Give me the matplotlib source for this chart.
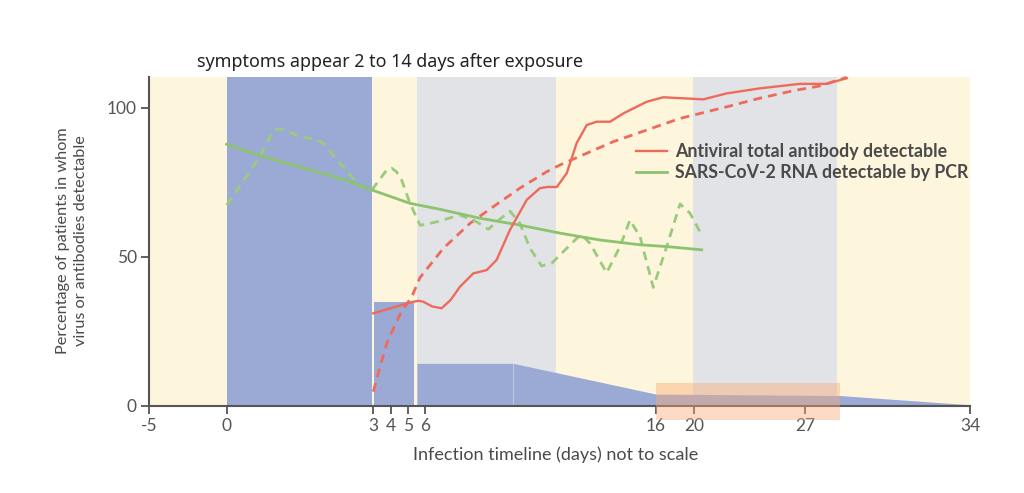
import numpy as np
import matplotlib
matplotlib.use("Agg")
import matplotlib.pyplot as plt
from matplotlib.patches import Rectangle

# ---------------- data ----------------
tick_days = [-5, 0, 3, 4, 5, 6, 16, 20, 27, 34]
y_ticks = [0, 50, 100]

# antibody (red, solid)
ab_day = [3.0, 5.29, 5.6, 5.88, 6.3, 6.71, 7.1, 7.5, 8.08, 8.66, 9.09, 9.67, 10.4, 10.97, 11.3, 11.7,
          12.13, 12.56, 13.0, 13.43, 14.01, 14.59, 15.6, 16.77, 18.53, 20.59, 22.06, 24.15,
          26.67, 27.91, 28.76]
ab_val = [31.0, 34.9, 35.2, 34.9, 33.3, 32.7, 35.5, 39.9, 44.4, 45.5, 48.9, 59.0, 69.1, 73.0, 73.4, 73.4,
          78.0, 88.1, 94.2, 95.3, 95.3, 98.1, 102.0, 103.5, 103.2, 102.8, 104.8, 106.5,
          108.0, 108.0, 109.9]

# antibody trend (red, dashed)
abfit_day = [3.0, 3.38, 3.76, 4.13, 4.6, 5.2, 5.69, 6.78, 7.94, 8.95, 10.1, 11.26, 11.84,
             14.15, 18.53, 22.06, 24.15, 26.25, 27.62, 28.76]
abfit_val = [4.7, 13.1, 20.9, 25.8, 31.5, 36.5, 43.0, 52.8, 61.2, 66.8, 73.0, 78.5, 80.8,
             88.6, 96.4, 100.3, 103.2, 105.7, 107.3, 110.2]

# RNA by PCR (green, dashed)
rna_day = [0.0, 0.68, 0.95, 1.09, 1.26, 1.5, 1.84, 1.97, 2.38, 2.73, 2.97, 3.76, 4.04, 4.32,
           4.61, 5.1, 5.69, 6.0, 6.49, 7.5, 8.23, 8.73, 9.09, 9.67, 10.1, 10.54, 11.04, 11.48,
           11.84, 12.57, 12.78, 13.14, 13.86, 14.44, 14.87, 15.31, 15.88, 17.13, 18.53,
           19.58, 20.48]
rna_val = [67.3, 83.6, 92.3, 92.9, 91.9, 90.3, 89.2, 88.2, 80.2, 73.5, 72.4, 79.1, 79.7, 78.5,
           75.8, 67.9, 60.6, 60.8, 61.7, 64.0, 61.7, 59.2, 61.7, 65.3, 61.2, 52.8, 46.9, 47.8,
           50.6, 56.2, 57.3, 54.5, 44.6, 53.4, 62.3, 56.7, 39.7, 53.4, 67.7,
           64.6, 57.3]

# RNA trend (green, solid)
rnafit_day = [0.0, 0.68, 1.5, 2.38, 2.97, 5.1, 6.64, 8.37, 10.1, 11.84, 13.57, 15.31, 17.13, 20.48]
rnafit_val = [87.7, 83.9, 80.1, 76.0, 72.4, 67.9, 65.9, 62.9, 60.6, 57.9, 55.6, 54.0, 53.4, 52.3]

# blue areas
rect_day = [3.02, 5.35]
rect_val = 34.9
area_day = [5.51, 9.82, 16.0, 28.5, 34.0]
area_val = [14.2, 14.2, 3.9, 3.4, 0.3]

# background bands
gray_bands = [(5.51, 11.67), (19.85, 28.33)]
blue_band = (0.0, 2.98)
orange_box = (16.05, 28.47, -4.8, 7.6)

legend_labels = ["Antiviral total antibody detectable", "SARS-CoV-2 RNA detectable by PCR"]
title_text = "symptoms appear 2 to 14 days after exposure"
xlabel_text = "Infection timeline (days) not to scale"
ylabel_text = "Percentage of patients in whom\nvirus or antibodies detectable"

# --------------- non-linear (not to scale) axis ---------------
tick_pos = np.array([149.3, 226.7, 373.3, 391, 408.3, 425.3, 656, 694, 805.3, 970])
kd = np.array(tick_days, float)


def fwd(x):
    x = np.asarray(x, float)
    y = np.interp(x, kd, tick_pos)
    s0 = (tick_pos[1] - tick_pos[0]) / (kd[1] - kd[0])
    s1 = (tick_pos[-1] - tick_pos[-2]) / (kd[-1] - kd[-2])
    y = np.where(x < kd[0], tick_pos[0] + (x - kd[0]) * s0, y)
    y = np.where(x > kd[-1], tick_pos[-1] + (x - kd[-1]) * s1, y)
    return y


def inv(p):
    p = np.asarray(p, float)
    x = np.interp(p, tick_pos, kd)
    s0 = (kd[1] - kd[0]) / (tick_pos[1] - tick_pos[0])
    s1 = (kd[-1] - kd[-2]) / (tick_pos[-1] - tick_pos[-2])
    x = np.where(p < tick_pos[0], kd[0] + (p - tick_pos[0]) * s0, x)
    x = np.where(p > tick_pos[-1], kd[-1] + (p - tick_pos[-1]) * s1, x)
    return x


# --------------- figure ---------------
W, H = 1024, 493
fig = plt.figure(figsize=(W / 100, H / 100), dpi=100)
ax = fig.add_axes([149.3 / W, 1 - 405.7 / H, (970 - 149.3) / W, (405.7 - 77) / H])
ax.set_xscale("function", functions=(fwd, inv))
ax.set_xlim(-5, 34)
ax.set_ylim(0, 110.3)

cream = "#FDF5DC"
gray = "#E2E3E6"
blue = "#9BAAD4"
red = "#EE6B5C"
green = "#8CC36E"
green_d = "#9ACB7C"
txt = "#4A4A4A"
narrow = ["Lato", "DejaVu Sans"]

ax.set_facecolor(cream)
for a, b in gray_bands:
    ax.axvspan(a, b, color=gray, lw=0, zorder=0.5)
ax.axvspan(blue_band[0], blue_band[1], color=blue, lw=0, zorder=0.6)
ax.fill_between(rect_day, [rect_val, rect_val], 0, color=blue, lw=0, zorder=0.7)
ax.fill_between(area_day, area_val, 0, color=blue, lw=0, zorder=0.7)
ax.plot([area_day[1], area_day[1]], [0, area_val[1]], color="white", lw=0.8, alpha=0.35, zorder=0.8)

ob = orange_box
ax.add_patch(Rectangle((ob[0], ob[2]), ob[1] - ob[0], ob[3] - ob[2], facecolor="#F9A875",
                       alpha=0.42, lw=0, zorder=5, clip_on=False))

ax.plot(abfit_day, abfit_val, color=red, lw=2.0, ls=(0, (3.2, 2.2)), zorder=3, clip_on=False)
ax.plot(rna_day, rna_val, color=green_d, lw=2.0, ls=(0, (3.2, 2.2)), zorder=3)
ax.plot(rnafit_day, rnafit_val, color=green, lw=2.0, zorder=3.1, label=legend_labels[1])
ax.plot(ab_day, ab_val, color=red, lw=1.7, zorder=3.2, label=legend_labels[0], clip_on=False)

# axes styling
for s in ["top", "right"]:
    ax.spines[s].set_visible(False)
for s in ["left", "bottom"]:
    ax.spines[s].set_color("#555555")
    ax.spines[s].set_linewidth(1.5)
ax.set_xticks(tick_days)
ax.set_xticklabels([str(d) for d in tick_days])
ax.set_yticks(y_ticks)
ax.xaxis.set_minor_locator(matplotlib.ticker.NullLocator())
ax.tick_params(axis="both", direction="out", length=6, width=1.3, color="#555555",
               labelcolor="#555555", labelsize=12.5, pad=3)
for lab in ax.get_xticklabels() + ax.get_yticklabels():
    lab.set_family(narrow)

handles, labels = ax.get_legend_handles_labels()
order = [labels.index(l) for l in legend_labels]
leg = fig.legend([handles[i] for i in order], [labels[i] for i in order],
                 loc="center left", bbox_to_anchor=(636 / W, 1 - 162 / H),
                 frameon=False, borderpad=0, borderaxespad=0, handlelength=1.75,
                 handletextpad=0.45, labelspacing=0.2,
                 prop={"family": narrow, "size": 12.8, "weight": "bold"})
for t in leg.get_texts():
    t.set_color(txt)

fig.text(390 / W, 1 - 62 / H, title_text, ha="center", va="center", fontsize=12.9,
         family=["Noto Sans", "DejaVu Sans"], color="#222222")
fig.text(556 / W, 1 - 455 / H, xlabel_text, ha="center", va="center", fontsize=13,
         family=narrow, color=txt)
fig.text(72 / W, 1 - 241 / H, ylabel_text, ha="center", va="center", rotation=90,
         fontsize=11.7, family=narrow, color=txt,
         multialignment="center", linespacing=1.3)

fig.savefig("out.png", dpi=100, facecolor="white")
